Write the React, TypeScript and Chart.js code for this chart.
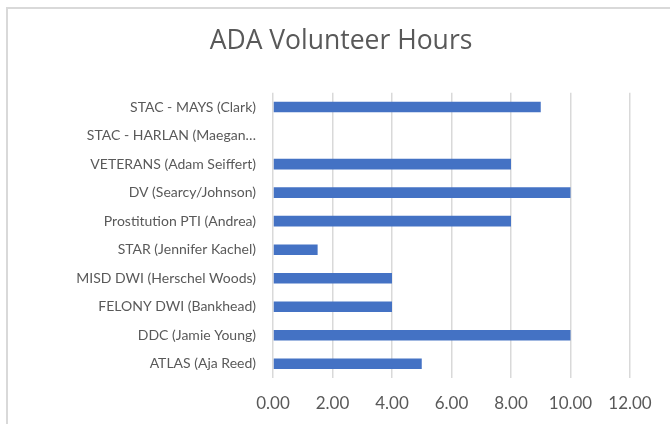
import React, { useEffect, useRef } from "react";
import { Chart, registerables } from "chart.js";

Chart.register(...registerables);

const categories = [
  "STAC - MAYS (Clark)",
  "STAC - HARLAN (Maegan…",
  "VETERANS (Adam Seiffert)",
  "DV (Searcy/Johnson)",
  "Prostitution PTI (Andrea)",
  "STAR (Jennifer Kachel)",
  "MISD DWI (Herschel Woods)",
  "FELONY DWI (Bankhead)",
  "DDC (Jamie Young)",
  "ATLAS (Aja Reed)",
];
const hours = [9, 0, 8, 10, 8, 1.5, 4, 4, 10, 5];
const xMin = 0;
const xMax = 12;
const xStep = 2;
const title = "ADA Volunteer Hours";

const FONT = "Lato, 'Open Sans', sans-serif";
const TITLE_FONT = "'Open Sans', Lato, sans-serif";
const TEXT = "#595959";

export default function App() {
  const ref = useRef<HTMLCanvasElement | null>(null);
  useEffect(() => {
    if (!ref.current) return;
    const chart = new Chart(ref.current, {
      type: "bar",
      data: {
        labels: categories,
        datasets: [
          {
            data: hours,
            backgroundColor: "#4472C4",
            borderWidth: 0,
            categoryPercentage: 1,
            barPercentage: 0.37,
          },
        ],
      },
      options: {
        indexAxis: "y",
        animation: false,
        responsive: false,
        maintainAspectRatio: false,
        layout: { padding: { left: 52, right: 40, top: 0, bottom: 0 } },
        plugins: {
          legend: { display: false },
          tooltip: { enabled: false },
          title: {
            display: true,
            text: title,
            color: TEXT,
            font: { family: TITLE_FONT, size: 26.5, weight: "normal" },
            padding: { top: 26, bottom: 35 },
          },
        },
        scales: {
          x: {
            min: xMin,
            max: xMax,
            ticks: {
              stepSize: xStep,
              color: TEXT,
              font: { family: FONT, size: 17 },
              padding: 15,
              callback: (v: any) => Number(v).toFixed(2),
            },
            grid: { color: "#d9d9d9", lineWidth: 1.5, drawTicks: false },
            border: { display: false },
            afterFit: (scale: any) => {
              scale.height = 46;
            },
          },
          y: {
            ticks: {
              color: TEXT,
              font: { family: FONT, size: 14 },
              padding: 17,
              autoSkip: false,
            },
            grid: { display: false, drawTicks: false },
            border: { display: false },
            afterFit: (scale: any) => {
              scale.width = 221;
            },
          },
        },
      },
    });
    return () => chart.destroy();
  }, []);

  return (
    <div
      style={{
        position: "absolute",
        left: 0,
        top: 0,
        width: 670,
        height: 424,
        overflow: "hidden",
        background: "#fff",
      }}
    >
      <div
        style={{
          position: "absolute",
          left: 6,
          top: 7,
          width: 720,
          height: 460,
          border: "2px solid #d9d9d9",
        }}
      />
      <canvas
        ref={ref}
        width={670}
        height={424}
        style={{ position: "absolute", left: 0, top: 0, width: 670, height: 424 }}
      />
    </div>
  );
}
